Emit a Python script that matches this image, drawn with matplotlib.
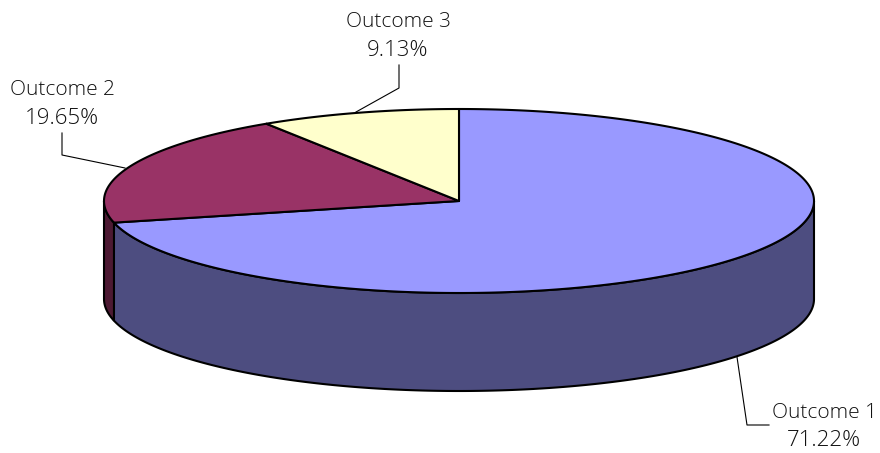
import numpy as np
import matplotlib
matplotlib.use("Agg")
import matplotlib.pyplot as plt
from matplotlib.patches import Polygon

categories = ["Outcome 1", "Outcome 2", "Outcome 3"]
values = [71.22, 19.65, 9.13]
top_colors = ["#9999FF", "#993366", "#FFFFCC"]
side_colors = ["#4D4D80", "#4D1A33", "#80805A"]

CX, CY, RX, RY, DEPTH = 459, 201, 355, 92, 98

fig = plt.figure(figsize=(8.8, 4.53), dpi=100)
ax = fig.add_axes([0, 0, 1, 1])
ax.set_xlim(0, 880)
ax.set_ylim(453, 0)
ax.axis("off")


def rim(a0, a1, dy=0.0):
    t = np.linspace(a0, a1, max(int(abs(a1 - a0) * 2), 2))
    r = np.radians(t)
    return np.column_stack([CX + RX * np.sin(r), CY + dy - RY * np.cos(r)])


edges = np.concatenate([[0], np.cumsum(values)]) * 3.6
EDGE_LW = 1.5

# side walls (front half only: 90 to 270 degrees clockwise from the top)
for a0, a1, col in zip(edges[:-1], edges[1:], side_colors):
    lo, hi = max(a0, 90), min(a1, 270)
    if hi > lo:
        upper = rim(lo, hi)
        lower = rim(hi, lo, DEPTH)
        ax.add_patch(Polygon(np.vstack([upper, lower]), closed=True, fc=col,
                             ec="black", lw=EDGE_LW, zorder=2))

# top faces
for a0, a1, col in zip(edges[:-1], edges[1:], top_colors):
    pts = np.vstack([[CX, CY], rim(a0, a1)])
    ax.add_patch(Polygon(pts, closed=True, fc=col, ec="black", lw=EDGE_LW,
                         joinstyle="round", zorder=3))

# leaders and labels
lw = 0.8
ax.plot([737, 747, 769], [357, 425, 425], color="black", lw=lw, zorder=1)
ax.plot([125, 62, 62], [168, 155, 133], color="black", lw=lw, zorder=1)
ax.plot([356, 399, 399], [112, 88, 65], color="black", lw=lw, zorder=1)

font = dict(family=["Open Sans", "DejaVu Sans"], fontweight="light",
            ha="center", va="center", color="#111111")
label_pos = [(824, 413, 440), (62, 90, 118), (398, 22, 51)]
for name, v, (x, y1, y2) in zip(categories, values, label_pos):
    ax.text(x, y1, name, fontsize=15, **font)
    ax.text(x, y2, f"{v:.2f}%", fontsize=16, **font)

fig.savefig("out.png", dpi=100, facecolor="white")
